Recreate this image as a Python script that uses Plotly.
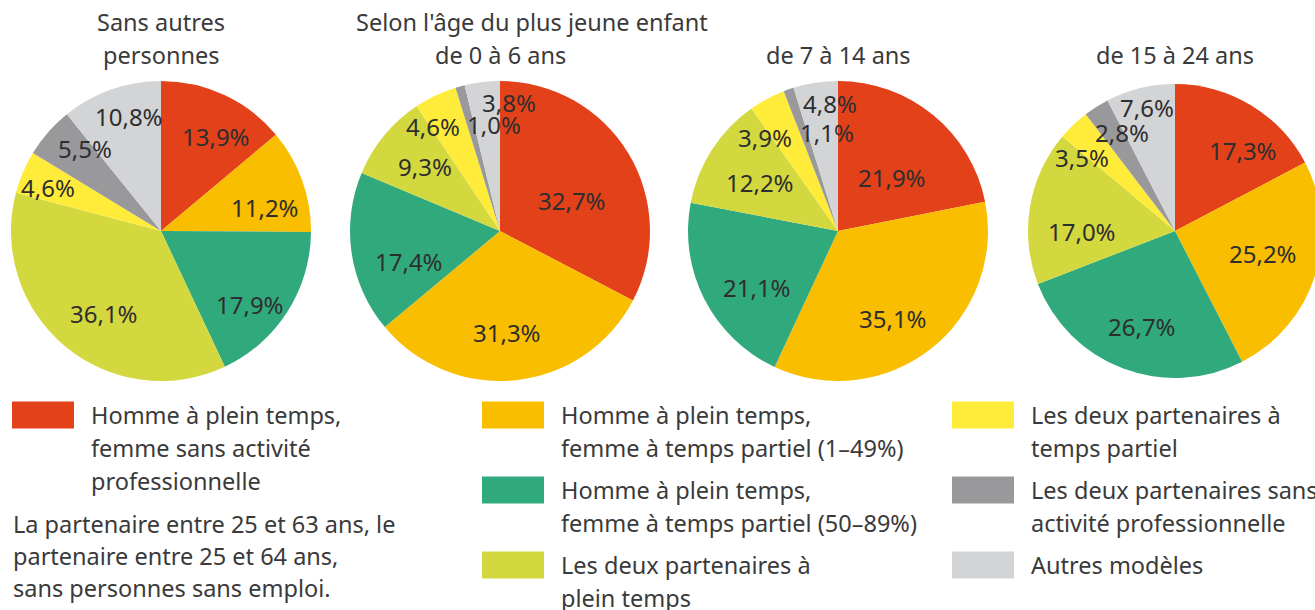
import math
import plotly.graph_objects as go

W, H = 1330, 610  # figure slightly wider than the 1315 window: last pie is cut at the edge as in the reference

# ---------------- data ----------------
categories = [
    "Homme à plein temps, femme sans activité professionnelle",
    "Homme à plein temps, femme à temps partiel (1–49%)",
    "Homme à plein temps, femme à temps partiel (50–89%)",
    "Les deux partenaires à plein temps",
    "Les deux partenaires à temps partiel",
    "Les deux partenaires sans activité professionnelle",
    "Autres modèles",
]
sans_autres = [13.9, 11.2, 17.9, 36.1, 4.6, 5.5, 10.8]
age_0_6 = [32.7, 31.3, 17.4, 9.3, 4.6, 1.0, 3.8]
age_7_14 = [21.9, 35.1, 21.1, 12.2, 3.9, 1.1, 4.8]
age_15_24 = [17.3, 25.2, 26.7, 17.0, 3.5, 2.8, 7.6]
series = [sans_autres, age_0_6, age_7_14, age_15_24]

pie_titles = [
    ["Sans autres", "personnes"],
    ["de 0 à 6 ans"],
    ["de 7 à 14 ans"],
    ["de 15 à 24 ans"],
]
group_title = "Selon l'âge du plus jeune enfant"

legend_lines = [
    ["Homme à plein temps,", "femme sans activité", "professionnelle"],
    ["Homme à plein temps,", "femme à temps partiel (1–49%)"],
    ["Homme à plein temps,", "femme à temps partiel (50–89%)"],
    ["Les deux partenaires à", "plein temps"],
    ["Les deux partenaires à", "temps partiel"],
    ["Les deux partenaires sans", "activité professionnelle"],
    ["Autres modèles"],
]
note_lines = [
    "La partenaire entre 25 et 63 ans, le",
    "partenaire entre 25 et 64 ans,",
    "sans personnes sans emploi.",
]

# ---------------- style ----------------
colors = ["#E3411A", "#F9BE00", "#30AA7D", "#D3D83E", "#FFEB3A", "#99999B", "#D3D4D6"]
FONT = "Noto Sans"
TXT = "#3a3a3a"
FS = 23.5

# pie geometry (page pixels): centre x, centre y, radius
pie_geom = [(161, 231, 150), (500, 231, 150), (838, 231, 150), (1175, 231, 147)]
# label placement: radial factor and angular shift (deg) per slice
label_rf = [
    [0.73, 0.71, 0.77, 0.67, 0.81, 0.75, 0.79],
    [0.52, 0.68, 0.64, 0.66, 0.83, 0.71, 0.86],
    [0.51, 0.69, 0.66, 0.61, 0.79, 0.66, 0.85],
    [0.72, 0.62, 0.69, 0.63, 0.81, 0.76, 0.86],
]
label_shift = [
    [5, 7, 7, -5, -2, 6, 4],
    [8, 2, -10, 1, -7, 12, 11],
    [6, 6, -8, -1, -10, 13, 5],
    [9, -3, -2, -10, -8, 4, 1],
]


def px(x):
    return x / W


def py(y):
    return 1 - y / H


fig = go.Figure()
annotations = []
shapes = []

for k, vals in enumerate(series):
    cx, cy, r = pie_geom[k]
    fig.add_trace(go.Pie(
        values=vals,
        labels=categories,
        sort=False,
        direction="clockwise",
        rotation=0,
        textinfo="none",
        marker=dict(colors=colors, line=dict(width=0)),
        domain=dict(x=[px(cx - r), px(cx + r)], y=[py(cy + r), py(cy - r)]),
        showlegend=False,
        hovertemplate="%{label}<br>%{value:.1f}%<extra></extra>",
    ))
    total = sum(vals)
    cum = 0.0
    for i, v in enumerate(vals):
        ang = math.radians((cum + v / 2) / total * 360 + label_shift[k][i])
        rr = label_rf[k][i] * r
        lx = cx + rr * math.sin(ang)
        ly = cy - rr * math.cos(ang)
        annotations.append(dict(
            x=px(lx), y=py(ly), xref="paper", yref="paper",
            text=f"{v:.1f}".replace(".", ",") + "%",
            showarrow=False, xanchor="center", yanchor="middle",
            font=dict(family=FONT, size=24, color="#2e2e2e"),
        ))
        cum += v

# titles
title_pos = [(161, [22, 55]), (500, [55]), (838, [55]), (1175, [55])]
for k, (tx, ys) in enumerate(title_pos):
    for line, ty in zip(pie_titles[k], ys):
        annotations.append(dict(
            x=px(tx), y=py(ty), xref="paper", yref="paper", text=line,
            showarrow=False, xanchor="center", yanchor="middle",
            font=dict(family=FONT, size=FS, color=TXT),
        ))
annotations.append(dict(
    x=px(532), y=py(22), xref="paper", yref="paper", text=group_title,
    showarrow=False, xanchor="center", yanchor="middle",
    font=dict(family=FONT, size=FS, color=TXT),
))

# legend (drawn manually, 3 columns)
leg_pos = [(12, 415), (482, 415), (482, 490), (482, 565),
           (952, 415), (952, 490), (952, 565)]
SW, SH, LS = 62, 27, 33
for i, (lx, ly) in enumerate(leg_pos):
    shapes.append(dict(
        type="rect", xref="paper", yref="paper",
        x0=px(lx), x1=px(lx + SW), y0=py(ly + SH / 2), y1=py(ly - SH / 2),
        fillcolor=colors[i], line=dict(width=0),
    ))
    for j, line in enumerate(legend_lines[i]):
        annotations.append(dict(
            x=px(lx + 77), y=py(ly + j * LS), xref="paper", yref="paper",
            text=line, showarrow=False, xanchor="left", yanchor="middle",
            font=dict(family=FONT, size=FS, color=TXT),
        ))
for j, line in enumerate(note_lines):
    annotations.append(dict(
        x=px(11), y=py(524 + j * 32), xref="paper", yref="paper",
        text=line, showarrow=False, xanchor="left", yanchor="middle",
        font=dict(family=FONT, size=FS, color=TXT),
    ))

fig.update_layout(
    width=W, height=H,
    margin=dict(l=0, r=0, t=0, b=0),
    paper_bgcolor="white", plot_bgcolor="white",
    annotations=annotations, shapes=shapes,
)
fig.write_html(
    "out.html",
    config={"displayModeBar": False},
    post_script="document.body.style.margin='0';document.body.style.overflow='hidden';",
)
